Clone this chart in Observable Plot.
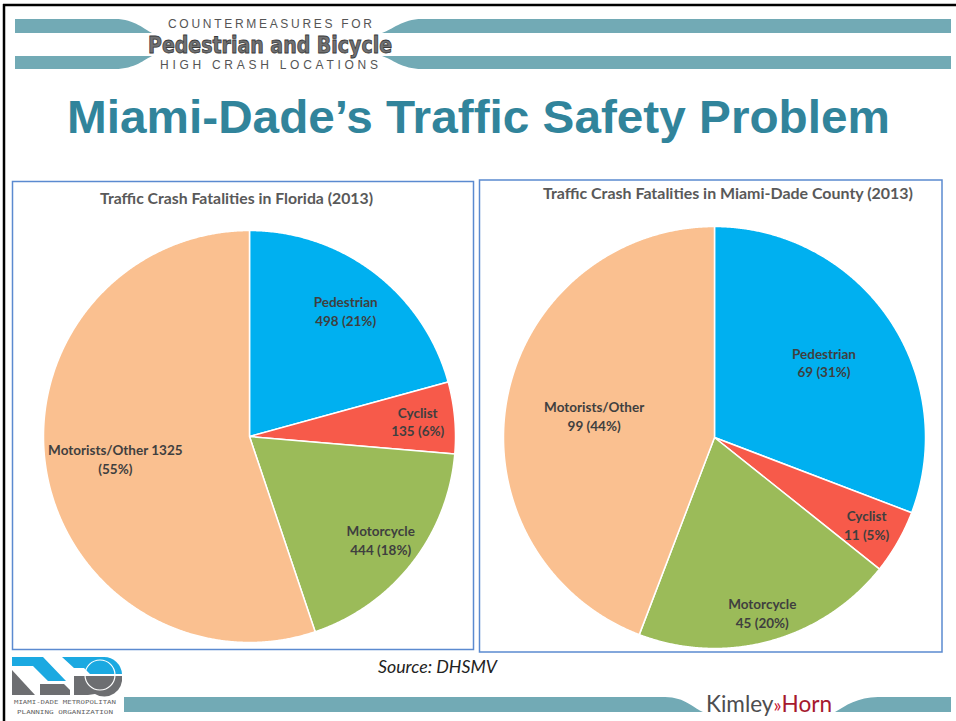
<!DOCTYPE html>
<html><head><meta charset="utf-8">
<script src="https://cdn.jsdelivr.net/npm/d3@7"></script>
<script src="https://cdn.jsdelivr.net/npm/@observablehq/plot@0.6"></script>
<style>
html,body{margin:0;padding:0;background:#fff;}
#slide{position:relative;width:956px;height:721px;overflow:hidden;background:#fff;}
.abs{position:absolute;}
</style></head><body><div id="slide"></div>
<script>
// ---- data ----
const categories = ["Pedestrian", "Cyclist", "Motorcycle", "Motorists/Other"];
const floridaValues = [498, 135, 444, 1325];
const miamiValues = [69, 11, 45, 99];
const floridaLabels = ["Pedestrian\n498 (21%)", "Cyclist\n135 (6%)", "Motorcycle\n444 (18%)", "Motorists/Other 1325\n(55%)"];
const miamiLabels = ["Pedestrian\n69 (31%)", "Cyclist\n11 (5%)", "Motorcycle\n45 (20%)", "Motorists/Other\n99 (44%)"];
const floridaTitle = "Traffic Crash Fatalities in Florida (2013)";
const miamiTitle = "Traffic Crash Fatalities in Miami-Dade County (2013)";
const sourceText = "Source: DHSMV";

// ---- styles ----
const sliceColors = ["#00B0F0", "#F75A4A", "#9BBB59", "#FAC090"];
const floridaLabelRadius = [0.77, 0.82, 0.81, 0.66];
const miamiLabelRadius = [0.63, 0.83, 0.86, 0.58];

const slide = document.getElementById("slide");
const NS = "http://www.w3.org/2000/svg";

// ---- decoration overlay ----
const deco = `
<svg xmlns="${NS}" width="956" height="721" style="position:absolute;left:0;top:0">
  <line x1="4" y1="4" x2="4" y2="721" stroke="#000" stroke-width="2.5"/>
  <line x1="3" y1="5" x2="956" y2="5" stroke="#000" stroke-width="2.5"/>
  <g fill="#72AAB5">
    <path d="M15,19 H115 C135,19 145,30 152,33 H15 Z"/>
    <path d="M382,33 C392,30 402,19 422,19 H951 V33 H382 Z"/>
    <path d="M15,56 H152 C145,59 135,69 115,69 H15 Z"/>
    <path d="M382,56 H951 V69 H422 C402,69 392,59 382,56 Z"/>
    <path d="M124,697 H665 C685,697 695,709 703,712 H124 Z"/>
    <path d="M835,712 C845,706 858,697 878,697 H951 V712 Z"/>
  </g>
  <text x="270" y="27.5" font-family="Liberation Sans, Arial" font-size="12" fill="#555" text-anchor="middle" textLength="204" lengthAdjust="spacing">COUNTERMEASURES FOR</text>
  <text x="270" y="52.5" font-family="DejaVu Sans Condensed, Liberation Sans Narrow, sans-serif" font-weight="bold" font-size="23" fill="#707173" stroke="#3a3a3a" stroke-width="0.8" text-anchor="middle" textLength="244" lengthAdjust="spacingAndGlyphs">Pedestrian and Bicycle</text>
  <text x="269" y="68.5" font-family="Liberation Sans, Arial" font-size="12" fill="#555" text-anchor="middle" textLength="218" lengthAdjust="spacing">HIGH CRASH LOCATIONS</text>
  <text x="478.5" y="133" font-family="Liberation Sans, Arial" font-weight="bold" font-size="46" fill="#31849B" text-anchor="middle" textLength="823" lengthAdjust="spacingAndGlyphs">Miami-Dade’s Traffic Safety Problem</text>
  <rect x="12.5" y="181.5" width="461" height="468" fill="none" stroke="#5B8AD0" stroke-width="1.5"/>
  <rect x="479.5" y="180" width="462.5" height="472" fill="none" stroke="#5B8AD0" stroke-width="1.5"/>
  <text x="236.5" y="203.5" font-family="Lato, sans-serif" font-weight="bold" font-size="14.5" fill="#595959" text-anchor="middle" textLength="273" lengthAdjust="spacingAndGlyphs">${floridaTitle}</text>
  <text x="728" y="198.5" font-family="Lato, sans-serif" font-weight="bold" font-size="14.5" fill="#595959" text-anchor="middle" textLength="370" lengthAdjust="spacingAndGlyphs">${miamiTitle}</text>
  <text x="378" y="673" font-family="Lato, sans-serif" font-style="italic" font-size="17" fill="#222" textLength="119" lengthAdjust="spacingAndGlyphs">${sourceText}</text>
  <text x="706" y="712" font-family="Lato, sans-serif" font-size="23" textLength="126" lengthAdjust="spacingAndGlyphs"><tspan fill="#4D4D4F">Kimley</tspan><tspan fill="#C8102E" font-size="19">»</tspan><tspan fill="#A6192E">Horn</tspan></text>
  <g>
    <path d="M12,657 H43 L66,681 H48 L33,666 H12 Z" fill="#1BA9E1"/>
    <path d="M62,657 H104 A18,18 0 0 1 122,674 H90 L84,668 H74 Z" fill="#1BA9E1"/>
    <path d="M12,670 L35,695 H12 Z" fill="#6D6E71"/>
    <path d="M40,684 H64 L70,690 V695 H40 Z" fill="#6D6E71"/>
    <path d="M74,676 H122 A18,18 0 0 1 95,694 L88,695 H74 Z" fill="#6D6E71"/>
    <circle cx="100" cy="675" r="15" fill="none" stroke="#fff" stroke-width="1.2"/>
    <text x="65" y="704" font-family="DejaVu Sans Mono, monospace" font-size="5.5" fill="#666" text-anchor="middle" textLength="102" lengthAdjust="spacingAndGlyphs">MIAMI-DADE METROPOLITAN</text>
    <text x="65" y="714" font-family="DejaVu Sans Mono, monospace" font-size="5.5" fill="#666" text-anchor="middle" textLength="96" lengthAdjust="spacingAndGlyphs">PLANNING ORGANIZATION</text>
  </g>
</svg>`;
slide.insertAdjacentHTML("beforeend", deco);

// ---- pie charts through Plot ----
function pieChart(values, labels, labelRadius, size) {
  const arcs = d3.pie().sort(null)(values);
  const pts = [];
  arcs.forEach((a, i) => {
    pts.push({cat: categories[i], x: 0, y: 0});
    const n = Math.max(4, Math.ceil((a.endAngle - a.startAngle) / 0.005));
    for (let k = 0; k <= n; k++) {
      const t = a.startAngle + (a.endAngle - a.startAngle) * k / n;
      pts.push({cat: categories[i], x: Math.sin(t), y: Math.cos(t)});
    }
  });
  const lab = arcs.map((a, i) => {
    const m = (a.startAngle + a.endAngle) / 2;
    const r = labelRadius[i];
    return {cat: categories[i], text: labels[i], x: r * Math.sin(m), y: r * Math.cos(m)};
  });
  return Plot.plot({
    width: size, height: size, margin: 0,
    x: {domain: [-1, 1], axis: null},
    y: {domain: [-1, 1], axis: null},
    color: {domain: categories, range: sliceColors},
    style: {background: "transparent", overflow: "visible", fontFamily: "Lato, sans-serif"},
    marks: [
      Plot.line(pts, {x: "x", y: "y", z: "cat", fill: "cat", stroke: "white", strokeWidth: 1.5, curve: "linear-closed"}),
      Plot.text(lab, {x: "x", y: "y", text: "text", fill: "#3F3F3F", fontSize: 13.5, fontWeight: "bold", lineHeight: 1.38})
    ]
  });
}

function place(node, left, top) {
  const d = document.createElement("div");
  d.className = "abs";
  d.style.left = left + "px";
  d.style.top = top + "px";
  d.appendChild(node);
  slide.appendChild(d);
}

const rF = 206, rM = 211;
place(pieChart(floridaValues, floridaLabels, floridaLabelRadius, 2 * rF), 249 - rF, 436 - rF);
place(pieChart(miamiValues, miamiLabels, miamiLabelRadius, 2 * rM), 714 - rM, 437 - rM);
</script>
</body></html>
